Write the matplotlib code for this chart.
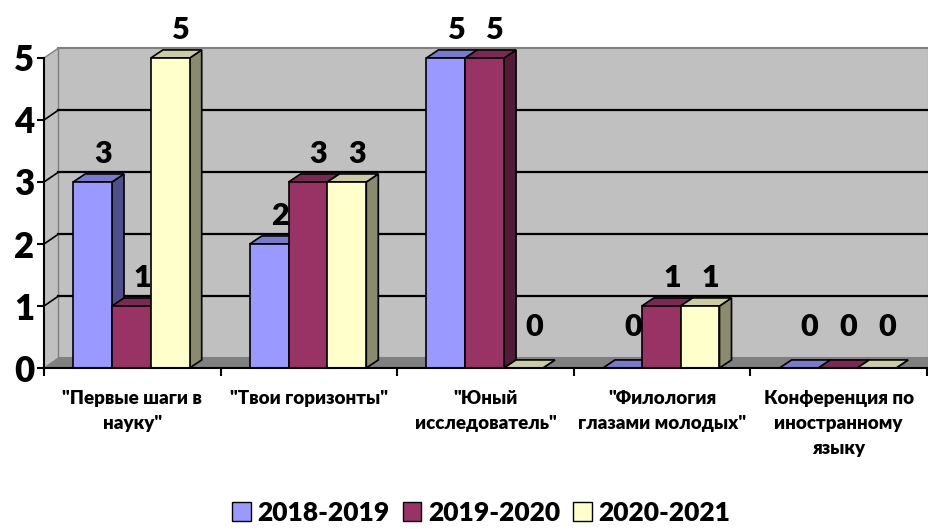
import matplotlib
matplotlib.use('Agg')
import matplotlib.pyplot as plt
from matplotlib.patches import Polygon, Rectangle

plt.rcParams['font.family'] = ['Lato', 'Open Sans', 'DejaVu Sans']
plt.rcParams['font.weight'] = 'heavy'

categories = ['"Первые шаги в\nнауку"', '"Твои горизонты"', '"Юный\nисследователь"',
              '"Филология\nглазами молодых"', 'Конференция по\nиностранному\nязыку']
series = ['2018-2019', '2019-2020', '2020-2021']
values_2018 = [3, 2, 5, 0, 0]
values_2019 = [1, 3, 5, 1, 0]
values_2020 = [5, 3, 0, 1, 0]
all_values = [values_2018, values_2019, values_2020]

front_col = ['#9999FF', '#993366', '#FFFFCC']
top_col = ['#7A7ACC', '#7A2952', '#CCCCA3']
side_col = ['#4F4F8C', '#521B37', '#8A8A6C']

# depth offsets (data units)
dxw, dyw = 0.082, 0.16   # walls
dxb, dyb = 0.068, 0.13   # bars
bar_w = 0.22
gap = 0.165
wall_right = 5.01

fig = plt.figure(figsize=(9.29, 5.29), dpi=100)
ax = fig.add_axes([44 / 929, (529 - 368) / 529, 883 / 929, 310 / 529])
ax.set_xlim(0, 5)
ax.set_ylim(0, 5)

# walls and floor
ax.add_patch(Rectangle((dxw, dyw), wall_right - dxw, 5, facecolor='#C0C0C0',
                       edgecolor='#808080', lw=1.5, zorder=0, clip_on=False))
ax.add_patch(Polygon([(0, 0), (dxw, dyw), (dxw, 5 + dyw), (0, 5)], closed=True,
                     facecolor='#C0C0C0', edgecolor='#808080', lw=1, zorder=0, clip_on=False))
ax.add_patch(Polygon([(0, 0), (wall_right, 0), (wall_right, dyw), (dxw, dyw)], closed=True,
                     facecolor='#808080', edgecolor='#808080', lw=0.5, zorder=0.5, clip_on=False))
for k in range(1, 5):
    ax.plot([dxw, wall_right], [k + dyw, k + dyw], color='black', lw=1.6, zorder=1, clip_on=False)
    ax.plot([0, dxw], [k, k + dyw], color='black', lw=1.2, zorder=1, clip_on=False)

# bars
for i in range(len(categories)):
    for j, vals in enumerate(all_values):
        v = vals[i]
        x0 = i + gap + j * bar_w
        x1 = x0 + bar_w
        z = 2 + i * 3 + j
        # side face
        ax.add_patch(Polygon([(x1, 0), (x1 + dxb, dyb), (x1 + dxb, v + dyb), (x1, v)], closed=True,
                             facecolor=side_col[j], edgecolor='black', lw=1.2, zorder=z, clip_on=False))
        # top face
        ax.add_patch(Polygon([(x0, v), (x0 + dxb, v + dyb), (x1 + dxb, v + dyb), (x1, v)], closed=True,
                             facecolor=top_col[j], edgecolor='black', lw=1.2, zorder=z, clip_on=False))
        # front face
        if v > 0:
            ax.add_patch(Rectangle((x0, 0), bar_w, v, facecolor=front_col[j],
                                   edgecolor='black', lw=1.2, zorder=z, clip_on=False))
        ax.text(x0 + bar_w / 2 + 0.06, max(v, 0.2) + dyb + 0.1, str(v), ha='center', va='bottom',
                fontsize=22, fontweight='heavy', zorder=50)

# axes
for s in ['top', 'right']:
    ax.spines[s].set_visible(False)
ax.spines['left'].set_linewidth(1.5)
ax.spines['bottom'].set_linewidth(1.5)
ax.spines['left'].set_zorder(40)
ax.spines['bottom'].set_zorder(40)
ax.set_yticks(range(6))
ax.set_yticklabels([str(k) for k in range(6)], fontsize=25, fontweight='heavy')
ax.tick_params(axis='y', length=5, width=1.5, pad=2)
ax.set_xticks(range(6))
ax.set_xticklabels([])
ax.tick_params(axis='x', which='major', length=6, width=1.5)
ax.set_xticks([i + 0.5 for i in range(5)], minor=True)
ax.set_xticklabels(categories, minor=True, fontsize=13.5, fontweight='heavy', linespacing=1.55)
ax.tick_params(axis='x', which='minor', length=0, pad=16)
ax.set_facecolor('none')

handles = [Rectangle((0, 0), 1, 1, facecolor=c, edgecolor='black', lw=1) for c in front_col]
fig.legend(handles, series, loc='center', bbox_to_anchor=(0.518, 1 - 513 / 529), ncol=3,
           frameon=False, handlelength=0.7, handleheight=0.75,
           handletextpad=0.25, columnspacing=0.5, prop={'weight': 'heavy', 'size': 19})

fig.savefig('out.png', dpi=100)
